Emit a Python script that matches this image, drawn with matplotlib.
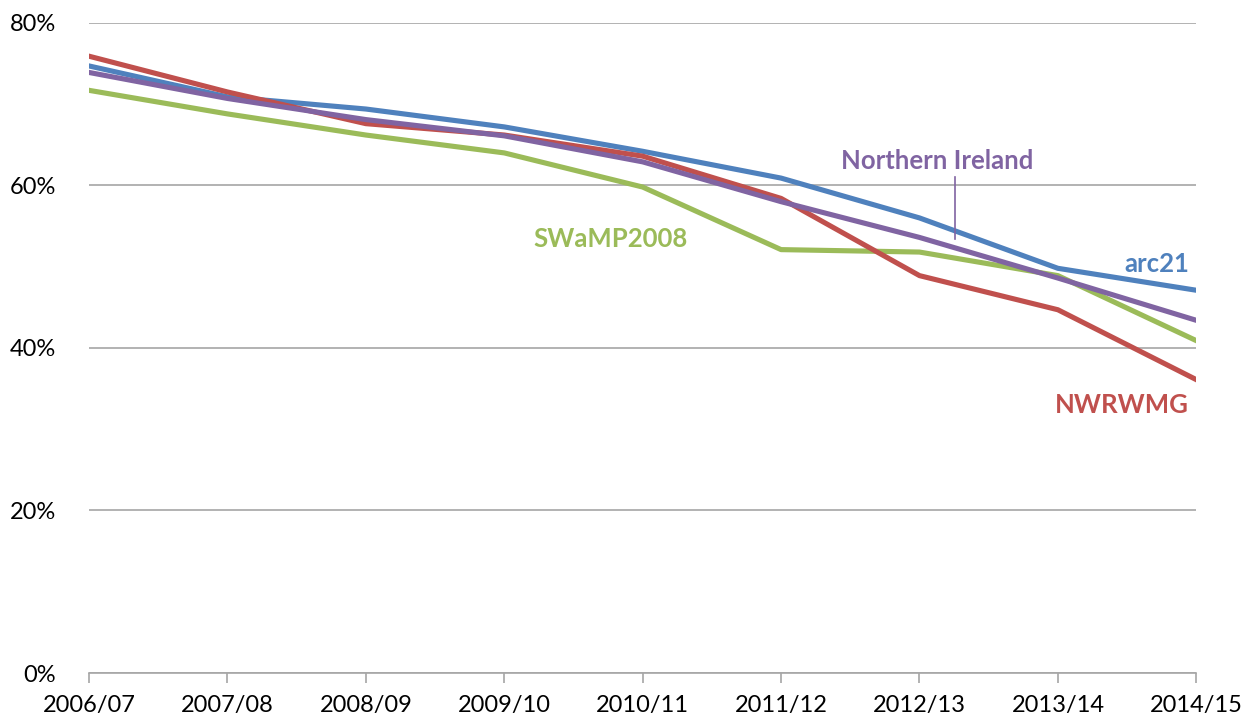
import matplotlib.pyplot as plt

plt.rcParams['font.family'] = ['Lato', 'DejaVu Sans']

years = ['2006/07', '2007/08', '2008/09', '2009/10', '2010/11',
         '2011/12', '2012/13', '2013/14', '2014/15']
arc21 = [74.7, 70.9, 69.4, 67.2, 64.2, 60.9, 56.0, 49.8, 47.1]
nwrwmg = [75.9, 71.5, 67.6, 66.2, 63.6, 58.4, 48.9, 44.7, 36.1]
swamp = [71.7, 68.8, 66.2, 64.0, 59.8, 52.1, 51.8, 48.9, 40.9]
n_ireland = [73.9, 70.7, 68.1, 66.1, 62.9, 58.0, 53.6, 48.6, 43.4]

BLUE = '#4F81BD'
RED = '#C0504D'
GREEN = '#9BBB59'
PURPLE = '#8064A2'

fig = plt.figure(figsize=(12.54, 7.24), dpi=100)
ax = fig.add_axes([0.071, 0.0704, 0.883, 0.898])

xs = list(range(len(years)))
lw = 3.7
ax.plot(xs, swamp, color=GREEN, lw=lw, zorder=3)
ax.plot(xs, nwrwmg, color=RED, lw=lw, zorder=4)
ax.plot(xs, arc21, color=BLUE, lw=lw, zorder=3.5)
ax.plot(xs, n_ireland, color=PURPLE, lw=lw, zorder=5)

ax.set_xlim(0, len(years) - 1)
ax.set_ylim(0, 80)
ax.set_yticks([0, 20, 40, 60, 80])
ax.set_yticklabels(['0%', '20%', '40%', '60%', '80%'])
ax.set_xticks(xs)
ax.set_xticklabels(years)
ax.yaxis.grid(True, color='#A6A6A6', lw=1.2)
ax.set_axisbelow(True)

for s in ['top', 'right', 'left']:
    ax.spines[s].set_visible(False)
ax.spines['bottom'].set_color('#A6A6A6')
ax.spines['bottom'].set_linewidth(1.2)
ax.tick_params(axis='y', length=0, pad=24, labelsize=17)
ax.tick_params(axis='x', length=7, width=1.2, color='#A6A6A6', pad=9, labelsize=17)

lab = dict(fontsize=18.5, fontweight='bold')
ax.text(5.43, 63.0, 'Northern Ireland', color=PURPLE, ha='left', va='center', **lab)
ax.plot([6.26, 6.26], [53.4, 61.0], color=PURPLE, lw=1.2, zorder=6)
ax.text(3.21, 53.4, 'SWaMP2008', color=GREEN, ha='left', va='center', **lab)
ax.text(7.48, 50.3, 'arc21', color=BLUE, ha='left', va='center', **lab)
ax.text(6.98, 33.0, 'NWRWMG', color=RED, ha='left', va='center', **lab)

fig.savefig('out.png', dpi=100)
